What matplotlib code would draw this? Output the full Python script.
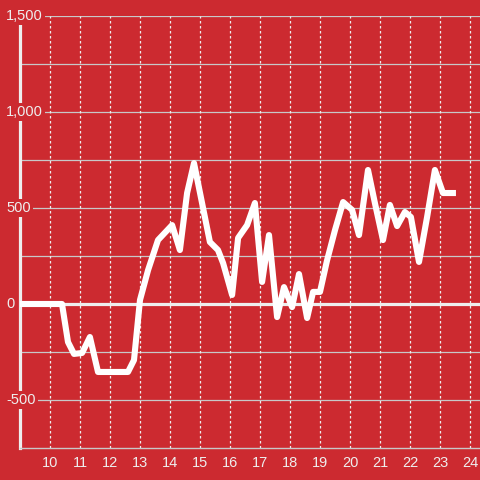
import matplotlib
matplotlib.use("Agg")
import matplotlib.pyplot as plt

RED, LIGHT, GRID = "#cc2a30", "#eeeeee", "#c8c8c8"

# values
xs = [9.0, 10.4, 10.6, 10.8, 11.07, 11.33, 11.6, 12.6, 12.8, 13.0, 13.27, 13.6,
      14.07, 14.33, 14.57, 14.8, 15.33, 15.6, 15.77, 16.07, 16.27, 16.57, 16.83,
      17.07, 17.3, 17.57, 17.8, 18.07, 18.3, 18.57, 18.77, 19.0, 19.23, 19.5,
      19.77, 20.07, 20.3, 20.6, 20.83, 21.1, 21.33, 21.57, 21.83, 22.03, 22.3,
      22.57, 22.83, 23.1, 23.43]
ys = [0, 0, -198, -260, -255, -172, -354, -354, -292, 21, 177, 333,
      411, 281, 578, 734, 323, 281, 213, 47, 344, 411, 526,
      115, 359, -68, 88, -16, 156, -73, 63, 63, 224, 385,
      531, 490, 359, 698, 526, 333, 516, 406, 479, 453, 219,
      453, 698, 578, 578]
yticks = [1500, 1000, 500, 0, -500]
ylabels = ["1,500", "1,000", "500", "0", "-500"]
xticks = list(range(10, 25))

plt.rcParams["font.family"] = ["Liberation Sans", "DejaVu Sans"]
fig = plt.figure(figsize=(4.8, 4.8), dpi=100, facecolor=RED)
ax = fig.add_axes((20/480, 32/480, 460/480, 432/480), facecolor=RED)
ax.set_xlim(9, 9 + 460/30)
ax.set_ylim(-750, 1500)

for v in range(-500, 1501, 250):
    if v != 0:
        ax.axhline(v, color=GRID, lw=0.9, zorder=1)
for v in xticks:
    ax.axvline(v, color=LIGHT, lw=0.9, ls=(0, (2, 2)), zorder=1)
ax.axhline(0, color=LIGHT, lw=2.3, zorder=2)

ax.plot(xs, ys, color="white", lw=4.4, solid_joinstyle="round", zorder=3)

ax.spines[["top", "right"]].set_visible(False)
ax.spines["left"].set_color(LIGHT); ax.spines["left"].set_linewidth(2.3)
ax.spines["bottom"].set_color(GRID); ax.spines["bottom"].set_linewidth(1.0)
ax.set_yticks([])
ax.set_xticks(xticks)
ax.set_xticklabels([str(v) for v in xticks], fontsize=10.5, color=LIGHT)
ax.tick_params(axis="x", length=0, pad=6)

for v, lab in zip(yticks, ylabels):
    ax.text(-14/460, v, lab, transform=ax.get_yaxis_transform(), ha="left", va="center",
            fontsize=10.5, color=LIGHT, zorder=10, clip_on=False,
            bbox=dict(facecolor=RED, edgecolor="none", pad=1.5))

fig.savefig("out.png", dpi=100, facecolor=RED)
